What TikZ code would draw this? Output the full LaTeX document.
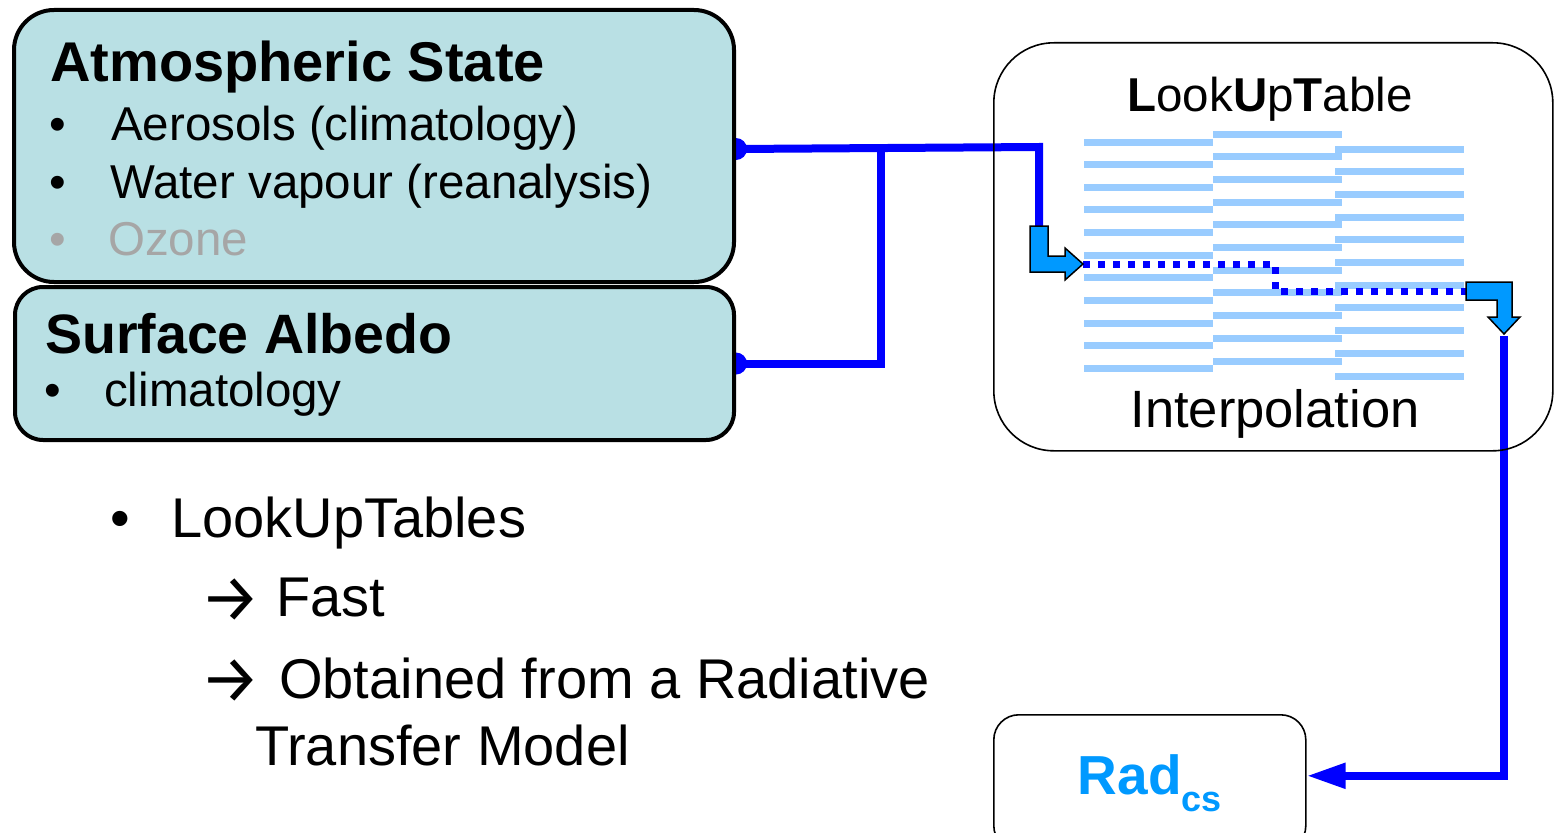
\documentclass[tikz,border=0pt]{standalone}
\usepackage{fontspec}
\setmainfont{Liberation Sans}
\newfontfamily\arrowfont{Fira Sans}
\usetikzlibrary{arrows.meta,calc}
\pgfdeclarelayer{bg}
\pgfsetlayers{bg,main}
\definecolor{boxfill}{RGB}{185,224,228}
\definecolor{lutbar}{RGB}{153,204,255}
\definecolor{bentfill}{RGB}{0,153,255}
\definecolor{pureblue}{RGB}{0,0,255}
\definecolor{ozgray}{RGB}{166,166,166}
\newcommand{\szTitle}{\fontsize{56}{62}\selectfont}
\newcommand{\szTitleB}{\fontsize{55.5}{62}\selectfont}
\newcommand{\szItem}{\fontsize{47.5}{54}\selectfont}
\newcommand{\szBig}{\fontsize{56}{62}\selectfont}
\newcommand{\szArrow}{\fontsize{67}{70}\selectfont}
\newcommand{\szLut}{\fontsize{47.5}{54}\selectfont}
\newcommand{\szInterp}{\fontsize{52.5}{58}\selectfont}
\newcommand{\szRad}{\fontsize{55}{60}\selectfont}
\newcommand{\szSub}{\fontsize{36}{40}\selectfont}
\tikzset{
  inbox/.style={draw=black,line width=4pt,fill=boxfill,inner sep=0pt,anchor=north west},
  thinbox/.style={draw=black,line width=1.6pt,inner sep=0pt,anchor=north west},
  txt/.style={inner sep=0pt,anchor=base west},
  arrowtxt/.style={inner sep=0pt,anchor=base west,font=\arrowfont\szArrow},
  conn/.style={draw=pureblue,line width=8pt,line cap=butt,line join=miter},
  dotline/.style={draw=pureblue,line width=7pt,dash pattern=on 7pt off 8pt},
  lutbarst/.style={draw=lutbar,line width=7pt},
  bentarrow/.style={draw=black,line width=1.5pt,fill=bentfill,line join=miter}
}
\begin{document}
\begin{tikzpicture}[x=1pt,y=-1pt]
\useasboundingbox (0,0) rectangle (1554,832);
\begin{pgfonlayer}{bg}
\fill[white] (0,0) rectangle (1554,832);
\end{pgfonlayer}

% boxes
\node[inbox,rounded corners=40pt,minimum width=720pt,minimum height=272pt] (atm) at (12,8) {};
\node[inbox,rounded corners=28pt,minimum width=719pt,minimum height=153pt] (surf) at (13,285) {};
\node[thinbox,rounded corners=60pt,minimum width=559pt,minimum height=408pt] (lutbox) at (993,42) {};
\node[thinbox,rounded corners=25pt,minimum width=312pt,minimum height=136pt,text=bentfill,font=\szRad\bfseries] (rad) at (993,714) {Rad\raisebox{-17pt}{\szSub\bfseries cs}};

% texts left boxes
\node[txt,font=\szTitle\bfseries] (atmT) at (50,81.7) {Atmospheric State};
\node[txt,font=\szItem] (b1) at (49.5,140) {•};
\node[txt,font=\szItem] (aer) at (111,140) {Aerosols (climatology)};
\node[txt,font=\szItem] (b2) at (49.5,198.5) {•};
\node[txt,font=\szItem] (wv) at (110,198.5) {Water vapour (reanalysis)};
\node[txt,font=\szItem,text=ozgray] (b3) at (49.5,255) {•};
\node[txt,font=\szItem,text=ozgray] (oz) at (108,255) {Ozone};
\node[txt,font=\szTitleB\bfseries] (surfT) at (45,353) {Surface Albedo};
\node[txt,font=\szItem] (b4) at (44,406.7) {•};
\node[txt,font=\szItem] (clim) at (104,406.7) {climatology};

% lower-left text
\node[txt,font=\szBig] (b5) at (110,537) {•};
\node[txt,font=\szBig] (lutT) at (171,537) {LookUpTables};
\node[arrowtxt] (a1) at (200,621) {→};
\node[txt,font=\szBig] (fast) at (276,616.7) {Fast};
\node[arrowtxt] (a2) at (200,702.6) {→};
\node[txt,font=\szBig] (obt) at (279,698.3) {Obtained from a Radiative};
\node[txt,font=\szBig] (tm) at (255,765) {Transfer Model};

% LUT texts
\node[inner sep=0pt,anchor=base,font=\szLut] (lutTitle) at (1270,112) {\textbf{L}ook\textbf{U}p\textbf{T}able};
\node[inner sep=0pt,anchor=base,font=\szInterp] (interp) at (1275,427) {Interpolation};

% LUT bars
\foreach \i in {0,...,10} {
  \draw[lutbarst] (1084,142+22.66*\i) -- (1213,142+22.66*\i);
  \draw[lutbarst] (1213,134+22.7*\i) -- (1342,134+22.7*\i);
  \draw[lutbarst] (1335,149.3+22.67*\i) -- (1464,149.3+22.67*\i);
}

% coordinates
\coordinate (atmport) at ($(atm.east)+(0,3)$);
\coordinate (jn) at (881,147);
\coordinate (bendA) at (1039,147);
\coordinate (stemA) at (1039,227);
\coordinate (tipA) at (1083,264);
\coordinate (inB) at (1466,291);
\coordinate (tipB) at (1504,336);
\coordinate (radin) at ($(rad.east)+(0,-7)$);

% dotted path in table
\draw[dotline] (tipA) -- (1275,264) -- (1275,291) -- (inB);

% bent arrows
\draw[bentarrow] (1030,226) -- (1048,226) -- (1048,256) -- (1065,256) -- (1065,248)
  -- (tipA) -- (1065,280) -- (1065,272) -- (1030,272) -- cycle;
\draw[bentarrow] (1466,282) -- (1512,282) -- (1512,317) -- (1520,317) -- (1504,334)
  -- (1488,317) -- (1497,317) -- (1497,300) -- (1466,300) -- cycle;

% connectors behind boxes
\begin{pgfonlayer}{bg}
\fill[pureblue] (atmport) circle[radius=11pt];
\fill[pureblue] (surf.east) circle[radius=11pt];
\draw[conn] (atmport) -- (bendA) -- (stemA);
\draw[conn] (surf.east) -| (jn);
\draw[conn,-{Triangle[length=39pt,width=24pt]}] (tipB) |- (radin);
\end{pgfonlayer}
\end{tikzpicture}
\end{document}
